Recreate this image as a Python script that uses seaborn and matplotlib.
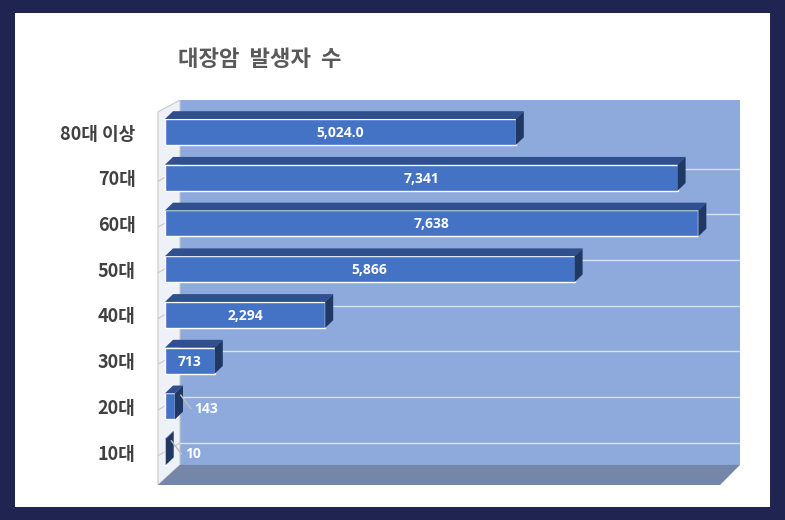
import numpy as np
import pandas as pd
import seaborn as sns
import matplotlib.pyplot as plt
from matplotlib.patches import Rectangle, Polygon

# -----------------------------
# Data
# -----------------------------
ages = ["80대 이상", "70대", "60대", "50대", "40대", "30대", "20대", "10대"]
counts = [5024.0, 7341, 7638, 5866, 2294, 713, 143, 10]
labels = ["5,024.0", "7,341", "7,638", "5,866", "2,294", "713", "143", "10"]

df = pd.DataFrame({"age": ages, "count": counts})

sns.set_theme(style="white")
plt.rcParams["font.family"] = ["Noto Sans CJK KR", "DejaVu Sans"]

fig = plt.figure(figsize=(7.85, 5.2), dpi=100)
fig.patch.set_facecolor("#1f2450")
fig.patches.append(Rectangle((15 / 785, 13 / 520), 755 / 785, 494 / 520,
                             transform=fig.transFigure, facecolor="white",
                             edgecolor="none", zorder=-5))

ax = fig.add_axes([155 / 785, 35 / 520, 585 / 785, 385 / 520])
ax.set_facecolor("none")
ax.set_zorder(2)

bar_h = 0.57
dx, dy = 115, 0.17  # 3D depth offset

# back wall, left wall, floor
x_lo, x_hi = -143, 8235
y_top, y_bot = -0.70, 7.72
ax.add_patch(Rectangle((215, y_top), x_hi - 215, 7.28 - y_top,
                       facecolor="#8eaadc", edgecolor="none", zorder=0))
ax.add_patch(Polygon([(-100, -0.44), (215, y_top), (215, 7.28), (-100, y_bot)],
                     facecolor="#eef1f7", edgecolor="#c8c8c8", lw=0.8, zorder=0))
ax.add_patch(Polygon([(-100, y_bot), (215, 7.28), (x_hi, 7.28), (7950, y_bot)],
                     facecolor="#7487a8", edgecolor="none", zorder=0))
for i in range(8):
    yb = i + 0.5 + 0.3
    if yb < 7.28:
        ax.plot([215, x_hi], [yb, yb], color="#d9e1f2", lw=1.0, zorder=0.5)
        ax.plot([-100, 215], [yb + 0.28, yb], color="#c8c8c8", lw=0.8, zorder=0.5)

sns.barplot(data=df, x="count", y="age", order=ages, color="#4472c4",
            saturation=1, width=bar_h, orient="h", ax=ax, zorder=3)

for i, v in enumerate(counts):
    top = i - bar_h / 2
    bot = i + bar_h / 2
    ax.add_patch(Polygon([(0, top), (dx, top - dy), (v + dx, top - dy), (v, top)],
                         facecolor="#2f4f8f", edgecolor="none", zorder=3))
    ax.add_patch(Polygon([(v, top), (v + dx, top - dy), (v + dx, bot - dy), (v, bot)],
                         facecolor="#203864", edgecolor="none", zorder=3))
    if v > 500:
        ax.text(v / 2, i + 0.02, labels[i], color="white", fontsize=10,
                fontweight="bold", ha="center", va="center", zorder=5,
                family=["Open Sans", "DejaVu Sans"])
    else:
        ax.plot([v + 80, v + 230], [i - 0.25, i + 0.05], color="#bfbfbf", lw=1, zorder=5)
        ax.text(v + 280, i + 0.05, labels[i], color="white", fontsize=10,
                fontweight="bold", ha="left", va="center", zorder=5,
                family=["Open Sans", "DejaVu Sans"])

ax.set_xlim(x_lo, x_hi)
ax.set_ylim(y_bot, y_top)
ax.set_xlabel("")
ax.set_ylabel("")
ax.set_xticks([])
ax.tick_params(axis="y", length=0, pad=14)
for t in ax.get_yticklabels():
    t.set_fontsize(13)
    t.set_fontweight("bold")
    t.set_color("#404040")
for s in ax.spines.values():
    s.set_visible(False)

fig.text(178 / 785, 1 - 60 / 520, "대장암  발생자  수", fontsize=16, fontweight="bold",
         color="#595959", ha="left", va="center")

fig.savefig("out.png", dpi=100)
